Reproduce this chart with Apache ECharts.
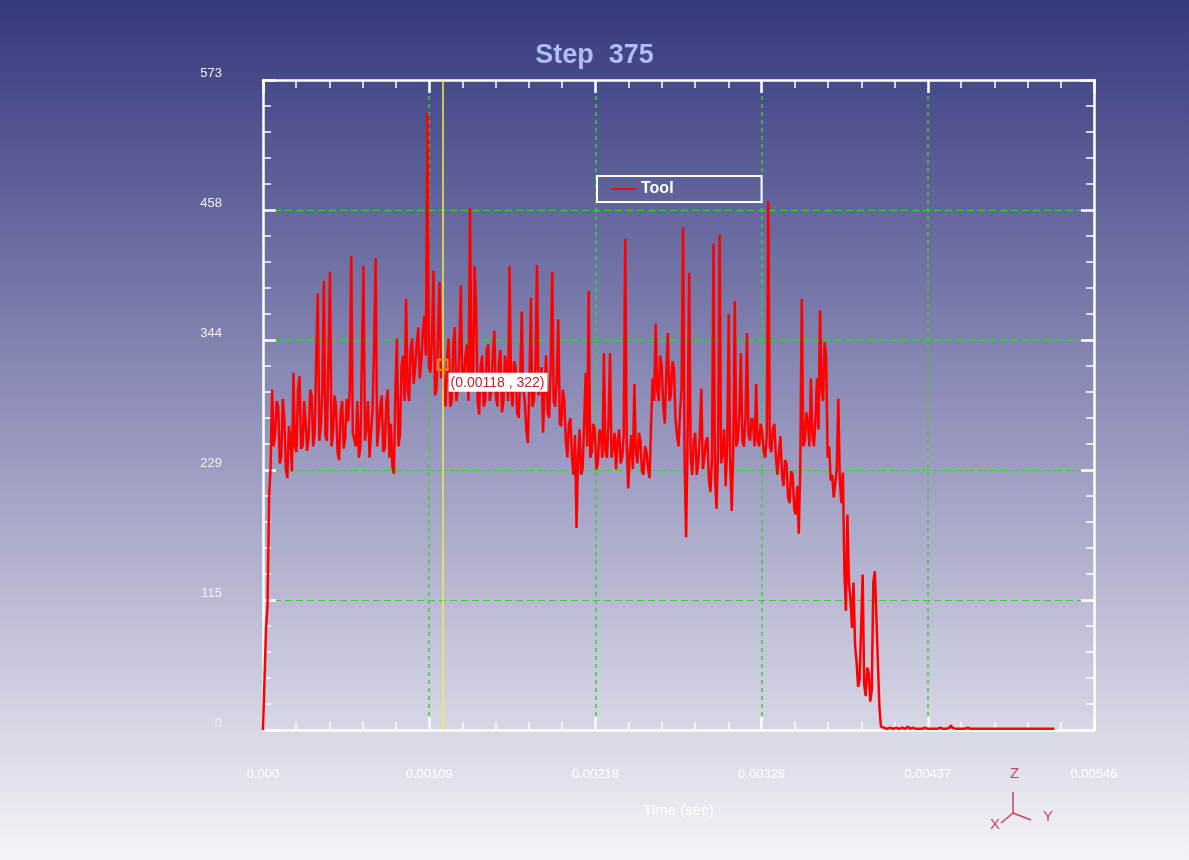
<!DOCTYPE html>
<html>
<head>
<meta charset="utf-8">
<script src="https://cdn.jsdelivr.net/npm/echarts@6/dist/echarts.min.js"></script>
<style>
  html, body { margin: 0; padding: 0; }
  #chart { width: 1189px; height: 860px; }
</style>
</head>
<body>
<div id="chart"></div>
<script>
// ---- data ----
const chartTitle = 'Step  375';
const seriesName = 'Tool';
const xAxisName = 'Time (sec)';
const xTickLabels = ['0.000', '0.00109', '0.00218', '0.00328', '0.00437', '0.00546'];
const yTickLabels = ['0', '115', '229', '344', '458', '573'];
const xMin = 0, xMax = 0.00546, xStep = 0.001092;
const yMin = 0, yMax = 573, yStep = 114.6;
const sampleStep = 0.00001; // time between samples (s)
const toolForce = [
  0, 45, 90, 110, 205, 232, 300, 250, 262, 290, 285, 235, 240, 292, 275, 230, 222, 268, 258, 228,
  315, 250, 245, 300, 312, 248, 250, 290, 272, 246, 258, 300, 295, 250, 262, 330, 385, 255, 268, 300,
  396, 260, 255, 330, 404, 250, 262, 295, 285, 245, 238, 280, 290, 248, 258, 292, 272, 300, 418, 262,
  262, 250, 290, 240, 250, 330, 409, 255, 268, 290, 240, 262, 282, 340, 416, 250, 265, 285, 295, 245,
  248, 290, 300, 240, 270, 232, 226, 300, 345, 250, 260, 320, 330, 290, 380, 300, 290, 335, 345, 305,
  320, 340, 355, 310, 325, 350, 365, 330, 544, 320, 315, 345, 405, 295, 300, 350, 395, 310, 322, 300,
  285, 330, 345, 285, 290, 340, 355, 290, 300, 335, 392, 300, 310, 330, 340, 290, 460, 310, 300, 409,
  375, 290, 278, 320, 330, 285, 290, 335, 340, 290, 300, 330, 352, 295, 285, 325, 335, 280, 290, 330,
  320, 290, 409, 300, 285, 325, 320, 280, 275, 310, 369, 300, 290, 265, 253, 300, 381, 285, 290, 320,
  410, 295, 300, 320, 262, 300, 330, 280, 275, 320, 404, 290, 285, 310, 362, 270, 268, 300, 290, 255,
  240, 270, 275, 240, 225, 260, 178, 240, 265, 225, 230, 270, 315, 250, 387, 240, 245, 270, 265, 230,
  235, 265, 260, 240, 332, 245, 240, 270, 332, 240, 250, 262, 230, 255, 265, 235, 240, 260, 433, 250,
  213, 245, 260, 230, 305, 245, 235, 262, 255, 228, 225, 250, 245, 230, 222, 270, 310, 290, 358, 300,
  290, 330, 320, 285, 270, 315, 350, 290, 295, 325, 320, 275, 260, 250, 280, 300, 443, 240, 170, 260,
  403, 240, 225, 255, 262, 225, 235, 260, 301, 230, 240, 255, 258, 220, 210, 240, 429, 220, 195, 250,
  437, 235, 245, 265, 215, 250, 367, 235, 193, 250, 378, 250, 255, 280, 332, 255, 250, 275, 350, 260,
  255, 275, 272, 250, 305, 255, 250, 270, 262, 245, 240, 260, 466, 250, 245, 265, 270, 240, 225, 245,
  259, 225, 215, 238, 235, 205, 200, 228, 225, 195, 190, 215, 173, 230, 380, 250, 255, 280, 270, 250,
  310, 260, 250, 275, 310, 265, 370, 300, 290, 342, 330, 240, 250, 220, 225, 205, 205, 230, 292, 220,
  200, 227, 140, 105, 190, 130, 115, 90, 130, 75, 60, 38, 45, 90, 137, 40, 30, 55, 50, 25,
  35, 130, 140, 101, 100, 20, 3, 2, 2, 1, 1, 2, 2, 1, 1, 2, 2, 1, 1, 1,
  2, 1, 1, 2, 3, 1, 1, 2, 2, 1, 1, 1, 2, 1, 1, 2, 1, 1, 2, 1,
  2, 1, 1, 1, 1, 2, 1, 1, 1, 1, 1, 2, 4, 2, 1, 1, 2, 1, 1, 1,
  1, 1, 1, 2, 1, 1, 1, 1, 1, 1, 1, 1, 1, 1, 2, 1, 1, 1, 1, 1,
  1, 1, 1, 1, 1, 1, 1, 1, 1, 1, 1, 1, 1, 1, 1, 1, 1, 1, 1, 1,
  1, 1, 1, 1, 1, 1, 1, 1, 1, 1, 1, 1, 1, 1, 1, 1, 1, 1, 1, 1, 1
];
const cursorTime = 0.00118;
const cursorValue = 322;

// ---- chart ----
const seriesData = toolForce.map((v, i) => [+(i * sampleStep).toFixed(6), v]);

const white = '#ffffff';
const gridGreen = '#38d038';
const triad = '#d0405e';

const baseAxis = {
  axisLine: { show: true, onZero: false, lineStyle: { color: white, width: 2.5 } },
  axisTick: { show: true, inside: true, length: 13, lineStyle: { color: white, width: 2.5 } },
  minorTick: { show: true, splitNumber: 5, length: 8, lineStyle: { color: white, width: 1.5 } },
};

const chart = echarts.init(document.getElementById('chart'), null, { renderer: 'canvas' });
chart.setOption({
  animation: false,
  backgroundColor: {
    type: 'linear', x: 0, y: 0, x2: 0, y2: 1,
    colorStops: [
      { offset: 0, color: '#35397d' },
      { offset: 0.5, color: '#9595bd' },
      { offset: 1, color: '#f4f4f8' }
    ]
  },
  title: {
    text: chartTitle,
    left: 'center',
    top: 37,
    textStyle: { color: '#b0bdf2', fontSize: 27, fontWeight: 'bold', fontFamily: 'Liberation Sans' }
  },
  legend: {
    left: 597, top: 176,
    orient: 'horizontal',
    padding: [5, 88, 5, 14],
    borderColor: white, borderWidth: 2, borderRadius: 0,
    itemWidth: 25, itemHeight: 10,
    itemGap: 6,
    textStyle: { color: white, fontSize: 16, fontWeight: 'bold', fontFamily: 'Liberation Sans' },
    data: [{ name: seriesName, icon: 'path://M0,4.1L25,4.1L25,5.9L0,5.9Z' }]
  },
  grid: { left: 263, right: 95, top: 80, bottom: 130 },
  xAxis: [
    Object.assign({}, baseAxis, {
      type: 'value', position: 'bottom', min: xMin, max: xMax, interval: xStep,
      name: xAxisName, nameLocation: 'middle', nameGap: 73,
      nameTextStyle: { color: white, fontSize: 15, fontFamily: 'Liberation Sans' },
      axisLabel: {
        margin: 38, color: white, fontSize: 13, fontFamily: 'Liberation Sans',
        showMinLabel: true, showMaxLabel: true,
        formatter: (v, i) => xTickLabels[i] !== undefined ? xTickLabels[i] : ''
      },
      splitLine: { show: true, lineStyle: { color: gridGreen, width: 1.5, type: [4, 4] } }
    }),
    Object.assign({}, baseAxis, {
      type: 'value', position: 'top', min: xMin, max: xMax, interval: xStep,
      axisLabel: { show: false }, splitLine: { show: false }
    })
  ],
  yAxis: [
    Object.assign({}, baseAxis, {
      type: 'value', position: 'left', min: yMin, max: yMax, interval: yStep,
      axisLabel: {
        margin: 41, color: '#f2f2f6', fontSize: 13, fontFamily: 'Liberation Sans',
        verticalAlign: 'bottom', showMinLabel: true, showMaxLabel: true,
        formatter: (v, i) => yTickLabels[i] !== undefined ? yTickLabels[i] : ''
      },
      splitLine: { show: true, lineStyle: { color: gridGreen, width: 1, type: [7, 4] } }
    }),
    Object.assign({}, baseAxis, {
      type: 'value', position: 'right', min: yMin, max: yMax, interval: yStep,
      axisLabel: { show: false }, splitLine: { show: false }
    })
  ],
  series: [{
    name: seriesName,
    type: 'line',
    data: seriesData,
    showSymbol: false,
    symbol: 'none',
    lineStyle: { color: '#ff0000', width: 2.5 },
    itemStyle: { color: '#ff0000' },
    z: 3,
    markLine: {
      silent: true, symbol: 'none',
      label: { show: false },
      lineStyle: { color: '#f2ee44', width: 1.5, type: 'solid' },
      data: [[{ coord: [cursorTime, yMin] }, { coord: [cursorTime, yMax] }]]
    },
    markPoint: {
      silent: true,
      z: 10,
      symbol: 'rect', symbolSize: 10,
      itemStyle: { color: 'rgba(0,0,0,0)', borderColor: '#ff8a00', borderWidth: 2 },
      label: {
        show: true,
        position: [12, 14],
        align: 'left', verticalAlign: 'top',
        formatter: () => '(' + cursorTime + ' , ' + cursorValue + ')',
        color: '#c8202a', fontSize: 14, fontFamily: 'Liberation Sans',
        backgroundColor: '#ffffff', padding: [3, 3, 2, 2]
      },
      data: [{ coord: [cursorTime, cursorValue] }]
    }
  }],
  graphic: [
    { type: 'line', shape: { x1: 1013, y1: 792, x2: 1013, y2: 813 }, style: { stroke: triad, lineWidth: 1.5 } },
    { type: 'line', shape: { x1: 1013, y1: 813, x2: 1031, y2: 820 }, style: { stroke: triad, lineWidth: 1.5 } },
    { type: 'line', shape: { x1: 1013, y1: 813, x2: 1001, y2: 823 }, style: { stroke: triad, lineWidth: 1.5 } },
    { type: 'text', x: 1010, y: 766, style: { text: 'Z', fill: triad, fontSize: 15, fontFamily: 'Liberation Sans' } },
    { type: 'text', x: 1043, y: 809, style: { text: 'Y', fill: triad, fontSize: 15, fontFamily: 'Liberation Sans' } },
    { type: 'text', x: 990, y: 817, style: { text: 'X', fill: triad, fontSize: 15, fontFamily: 'Liberation Sans' } }
  ]
});
</script>
</body>
</html>
